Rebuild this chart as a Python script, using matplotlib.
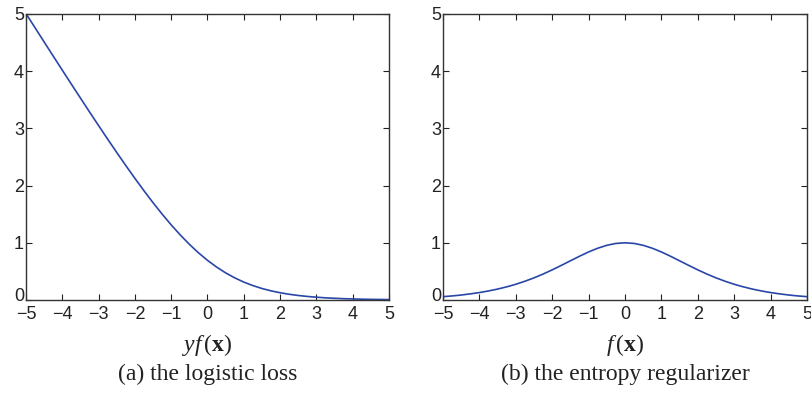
import matplotlib
matplotlib.use("Agg")
import matplotlib.pyplot as plt
from matplotlib.transforms import ScaledTranslation

plt.rcParams['mathtext.fontset'] = 'custom'
plt.rcParams['mathtext.rm'] = 'Liberation Serif'
plt.rcParams['mathtext.it'] = 'Liberation Serif:italic'
plt.rcParams['mathtext.bf'] = 'Liberation Serif:bold'

x_vals = [-5.0, -4.75, -4.5, -4.25, -4.0, -3.75, -3.5, -3.25, -3.0, -2.75, -2.5,
          -2.25, -2.0, -1.75, -1.5, -1.25, -1.0, -0.75, -0.5, -0.25, 0.0,
          0.25, 0.5, 0.75, 1.0, 1.25, 1.5, 1.75, 2.0, 2.25, 2.5,
          2.75, 3.0, 3.25, 3.5, 3.75, 4.0, 4.25, 4.5, 4.75, 5.0]

logistic_loss = [5.007, 4.759, 4.511, 4.264, 4.018, 3.773, 3.530, 3.288, 3.049, 2.812, 2.579,
                 2.350, 2.127, 1.910, 1.701, 1.502, 1.313, 1.137, 0.974, 0.826, 0.693,
                 0.576, 0.474, 0.387, 0.313, 0.252, 0.201, 0.160, 0.127, 0.100, 0.079,
                 0.062, 0.049, 0.038, 0.030, 0.023, 0.018, 0.014, 0.011, 0.009, 0.007]

entropy_reg = [0.058, 0.071, 0.087, 0.107, 0.130, 0.158, 0.191, 0.230, 0.275, 0.328, 0.387,
               0.454, 0.527, 0.605, 0.685, 0.765, 0.840, 0.905, 0.956, 0.989, 1.000,
               0.989, 0.956, 0.905, 0.840, 0.765, 0.685, 0.605, 0.527, 0.454, 0.387,
               0.328, 0.275, 0.230, 0.191, 0.158, 0.130, 0.107, 0.087, 0.071, 0.058]

x_ticks = [-5, -4, -3, -2, -1, 0, 1, 2, 3, 4, 5]
y_ticks = [0, 1, 2, 3, 4, 5]
x_labels = [r'$yf\,(\mathbf{x})$', r'$f\,(\mathbf{x})$']
captions = ['(a) the logistic loss', '(b) the entropy regularizer']

W, H = 812, 404
fig = plt.figure(figsize=(W / 100, H / 100), dpi=100)

line_color = '#2a46a8'
boxes = [(26, 389), (443, 807)]
top, bottom = 14, 300
series = [logistic_loss, entropy_reg]

for (l, r), ys, xl, cap in zip(boxes, series, x_labels, captions):
    ax = fig.add_axes([l / W, (H - bottom) / H, (r - l) / W, (bottom - top) / H])
    ax.plot(x_vals, ys, color=line_color, lw=1.2)
    ax.set_xlim(-5, 5)
    ax.set_ylim(0, 5)
    ax.set_xticks(x_ticks)
    ax.set_yticks(y_ticks)
    ax.tick_params(direction='in', top=True, right=True, length=4, width=0.8,
                   labelsize=13, colors='#222222', labelcolor='#222222')
    ax.tick_params(axis='x', pad=4)
    ax.tick_params(axis='y', pad=1.5)
    for s in ax.spines.values():
        s.set_linewidth(1.0)
        s.set_color('#333333')
    for lab in ax.get_xticklabels() + ax.get_yticklabels():
        lab.set_family('Liberation Sans')
    # lift the y "0" label slightly so it sits above the x tick labels
    ylabs = ax.get_yticklabels()
    ylabs[0].set_transform(ylabs[0].get_transform() + ScaledTranslation(0, 4 / 72, fig.dpi_scale_trans))
    cx = (l + r) / 2 / W
    fig.text(cx, 1 - 345 / H, xl, ha='center', va='center', fontsize=17, color='#222222')
    fig.text(cx, 1 - 374 / H, cap, ha='center', va='center', fontsize=17,
             family='Liberation Serif', color='#222222')

fig.savefig('out.png', dpi=100)
